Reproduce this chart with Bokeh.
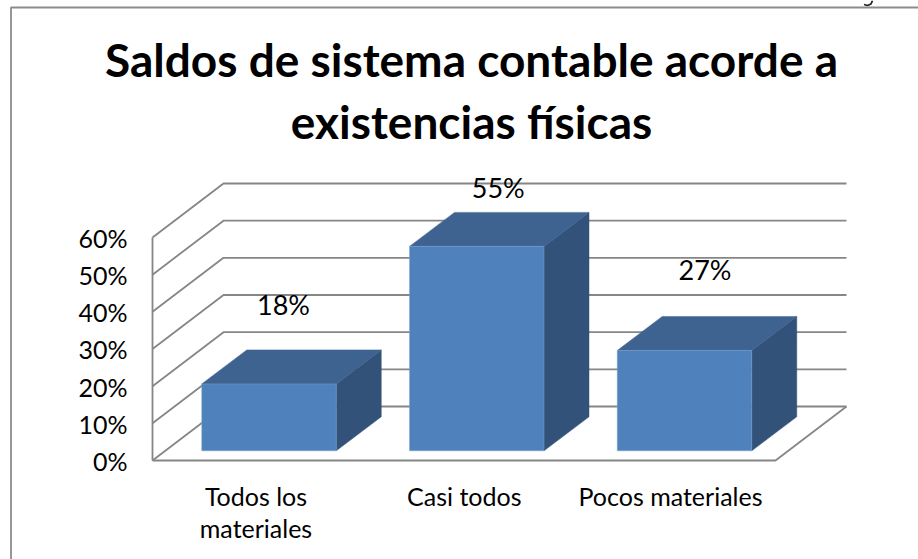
from bokeh.core.properties import value
from bokeh.embed import file_html
from bokeh.models import Range1d
from bokeh.plotting import figure
from bokeh.resources import INLINE

# Chart content
TITLE_LINES = ["Saldos de sistema contable acorde a", "existencias físicas"]
CATEGORIES = [["Todos los", "materiales"], ["Casi todos"], ["Pocos materiales"]]
SHARES = [18, 55, 27]
SHARE_LABELS = ["18%", "55%", "27%"]
TICKS = [0, 10, 20, 30, 40, 50, 60]
TICK_LABELS = ["0%", "10%", "20%", "30%", "40%", "50%", "60%"]

WIDTH, HEIGHT = 918, 559
FONT = value("Lato")

# Scale: x counts category slots, y is percent; pixel sizes below convert to data units.
PX_PER_SLOT = 207.75
PX_PER_PCT = 3.7167
ORIGIN_PX = 268.5      # centre of the first column's front face
BASE_PX = 460.0        # pixel row of the 0% front edge


def dx(px):
    return px / PX_PER_SLOT


def dy(px):
    return px / PX_PER_PCT


p = figure(
    width=WIDTH, height=HEIGHT, output_backend="svg", toolbar_location=None,
    x_range=Range1d(-ORIGIN_PX / PX_PER_SLOT, (WIDTH - ORIGIN_PX) / PX_PER_SLOT),
    y_range=Range1d(-(HEIGHT - BASE_PX) / PX_PER_PCT, BASE_PX / PX_PER_PCT),
    min_border=0, x_axis_type="linear", y_axis_type="linear",
)
p.axis.visible = False
p.grid.visible = False
p.outline_line_color = None

GRID = "#868686"
FRONT, TOP, SIDE = "#4F81BD", "#3F6390", "#325279"

# Floor extents and wall depth
floor_left = dx(152 - ORIGIN_PX)
floor_right = dx(775 - ORIGIN_PX)
wall_dx, wall_dy = dx(71), dy(54)

# Page frame that surrounds the chart
frame_x = dx(10.5 - ORIGIN_PX)
frame_top = dy(BASE_PX - 7)
p.line([frame_x, frame_x, dx(WIDTH - ORIGIN_PX)],
       [dy(BASE_PX - HEIGHT), frame_top, frame_top], line_color="#8C8C8C", line_width=1.8)

# Small hooked stroke above the page frame, near the right edge
p.line([dx(px - ORIGIN_PX) for px in (872, 870.5, 867, 863.5)],
       [dy(BASE_PX - py) for py in (0, 3.5, 5, 4)], line_color="#222222", line_width=1.8)

# Walls: rule along the side wall and across the back wall at each tick
for t in TICKS:
    p.line([floor_left, floor_left + wall_dx, floor_right + wall_dx],
           [t, t + wall_dy, t + wall_dy], line_color=GRID, line_width=1.8)
p.line([floor_left, floor_left], [TICKS[0], TICKS[-1]], line_color=GRID, line_width=1.8)
p.line([floor_left, floor_right, floor_right + wall_dx],
       [0, 0, wall_dy], line_color=GRID, line_width=1.8)

# Columns: each one is three faces in oblique projection
half = dx(134.5) / 2
lift = dy(9.7)
depth_x, depth_y = dx(45), dy(34)
xs = list(range(len(SHARES)))
for x, v in zip(xs, SHARES):
    l, r = x - half, x + half
    b, t = lift, lift + v
    p.patch([r, r + depth_x, r + depth_x, r], [b, b + depth_y, t + depth_y, t],
            fill_color=SIDE, line_color=SIDE, line_width=0.5)
    p.patch([l, r, r + depth_x, l + depth_x], [t, t, t + depth_y, t + depth_y],
            fill_color=TOP, line_color=TOP, line_width=0.5)
    p.patch([l, r, r, l], [b, b, t, t],
            fill_color=FRONT, line_color="#7FA3CF", line_width=0.5)

# Value labels float above each column, each with its own hand placement
label_shift_x = (14.5, 21.5, 20.5)
label_shift_y = (45, 25, 47)
p.text([x + dx(s) for x, s in zip(xs, label_shift_x)],
       [v + lift + depth_y + dy(s) for v, s in zip(SHARES, label_shift_y)],
       text=SHARE_LABELS, text_font=FONT, text_font_size="27px", text_color="#000000",
       text_align="center", text_baseline="middle")

# Percent ticks, right-aligned against the side wall
p.text([dx(127 - ORIGIN_PX)] * len(TICKS), [t - dy(0.5) for t in TICKS], text=TICK_LABELS,
       text_font=FONT, text_font_size="25px", text_color="#000000",
       text_align="right", text_baseline="middle")

# Category names under the floor, one text per line
for x, lines, cx in zip(xs, CATEGORIES, (-13, -12.5, -14)):
    for i, line in enumerate(lines):
        p.text([x + dx(cx)], [dy(BASE_PX - 495 - 32.5 * i)], text=[line], text_font=FONT,
               text_font_size="25px", text_color="#000000",
               text_align="center", text_baseline="middle")

# Two-line heading
for i, line in enumerate(TITLE_LINES):
    p.text([dx(471 - ORIGIN_PX)], [dy(BASE_PX - 59 - 62 * i)], text=[line], text_font=FONT,
           text_font_style="bold", text_font_size="46px", text_color="#000000",
           text_align="center", text_baseline="middle")

open("out.html", "w").write(file_html(p, INLINE))
